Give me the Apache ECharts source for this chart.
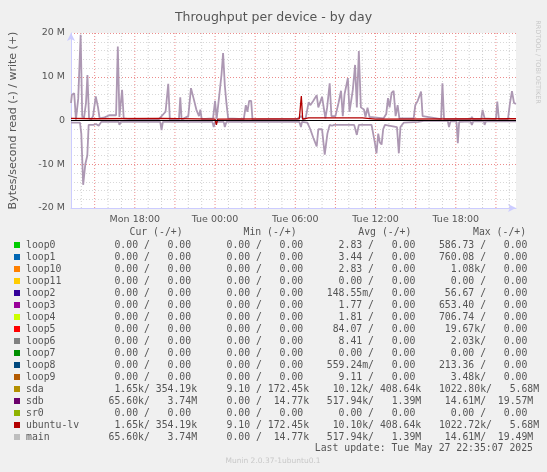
<!DOCTYPE html>
<html>
<head>
<meta charset="utf-8">
<script src="https://cdn.jsdelivr.net/npm/echarts@6/dist/echarts.min.js"></script>
<style>
  html, body { margin: 0; padding: 0; background: #f0f0f0; }
  #chart { width: 547px; height: 472px; }
</style>
</head>
<body>
<div id="chart"></div>
<script>
// hours since Mon 00:00, values in MB/s
var mainWrite = [[13.23,4],[13.3,5.9],[13.47,6.2],[13.6,0.2],[13.77,5],[13.95,19.6],[14.07,1],[14.2,0.5],[14.35,4],[14.46,10.4],[14.58,0.5],[14.75,0.3],[14.88,1],[15.08,5.5],[15.25,3],[15.37,0.5],[15.74,0.7],[16.1,1.2],[16.24,1.5],[16.6,1.2],[16.73,16.9],[16.85,0.8],[17.05,7],[17.17,0.5],[17.6,0.3],[19.8,0.3],[19.93,0.5],[20.3,2],[20.5,8.4],[20.62,0.2],[21.3,0.2],[21.4,5.3],[21.5,0.2],[22.0,1],[22.2,7.4],[22.4,5],[22.6,2.5],[22.8,1],[22.9,2.5],[23.0,0.3],[23.85,0.5],[24.0,4.5],[24.12,0.3],[24.32,5.9],[24.48,10.4],[24.6,15.4],[24.66,12],[24.73,8],[24.85,4],[24.98,0.5],[26.15,0.3],[26.3,3.5],[26.42,2],[26.55,4.5],[26.7,4.5],[26.8,0.2],[30.1,0.3],[30.45,1],[30.6,0.3],[30.77,0.5],[31.0,4.2],[31.12,3.5],[31.35,4.5],[31.6,5.8],[31.72,3],[32.0,5.4],[32.25,0.5],[32.38,3],[32.57,8.5],[32.7,1],[33.0,1],[33.23,4],[33.42,6.8],[33.55,1],[33.68,6],[33.93,9.7],[34.05,2],[34.3,7],[34.47,12.7],[34.6,3],[34.75,15.9],[34.9,3],[35.13,2.5],[35.25,0.8],[35.4,2.9],[35.55,0.8],[36.6,0.5],[36.8,1.5],[36.93,5.1],[37.05,3],[37.2,6.3],[37.35,6.8],[37.5,1],[37.65,3.5],[37.78,0.5],[38.85,0.5],[38.97,3.5],[39.15,4.5],[39.4,6.6],[39.52,1],[40.9,0.3],[41.0,8.5],[41.12,0.3],[43.1,0.3],[43.2,0.8],[43.3,0.3],[43.9,0.3],[44.0,2.4],[44.15,0.5],[45.0,0.3],[45.1,4.3],[45.22,0.3],[45.9,0.3],[46.05,4],[46.2,6.7],[46.35,4],[46.5,3.8]];
var mainRead = [[13.23,-0.5],[13.6,-0.5],[13.9,-0.5],[14.0,-3],[14.14,-14.7],[14.3,-10],[14.45,-8],[14.55,-1],[14.9,-1],[15.1,-0.8],[15.3,-1.2],[15.5,-0.3],[16.8,-0.3],[16.85,-1],[16.95,-0.3],[19.9,-0.3],[20.0,-2.2],[20.1,-0.3],[23.8,-0.3],[23.9,-1.5],[24.0,-0.3],[24.65,-0.3],[24.73,-1.5],[24.85,-0.3],[30.3,-0.3],[30.42,-1.5],[30.5,-0.3],[30.9,-0.5],[31.12,-2],[31.35,-4],[31.6,-5.9],[31.72,-2],[32.0,-2],[32.2,-7.8],[32.4,-3],[32.57,-1],[32.75,-1.2],[32.9,-1],[34.4,-1],[34.6,-3.3],[34.75,-1],[35.7,-1],[35.95,-5.1],[36.07,-7.5],[36.2,-3],[36.32,-5],[36.45,-5.5],[36.57,-2],[36.7,-1],[37.6,-1.5],[37.74,-7.5],[37.86,-1.5],[38.1,-0.5],[39.2,-0.3],[39.6,-0.1],[41.4,-0.1],[41.49,-1.5],[41.6,-0.2],[42.05,-0.2],[42.15,-5.2],[42.25,-0.3],[43.1,-0.2],[43.2,-1],[43.3,-0.2],[44.1,-0.2],[44.15,-1],[44.25,-0.2],[46.5,-0.2]];
var lvWrite = [[13.23,0.5],[15,0.4],[20,0.5],[24,0.3],[24.1,-1],[24.2,0.3],[30.3,0.4],[30.45,5.6],[30.55,0.3],[31,0.6],[35,0.6],[36,0.3],[46.5,0.4]];

var timeLabels = [18, 24, 30, 36, 42];
var majorLines = [15, 18, 21, 24, 27, 30, 33, 36, 39, 42, 45];
var minorLines = [14, 16, 17, 19, 20, 22, 23, 25, 26, 28, 29, 31, 32, 34, 35, 37, 38, 40, 41, 43, 44, 46];

var legendNames = ['loop0','loop1','loop10','loop11','loop2','loop3','loop4','loop5','loop6','loop7','loop8','loop9','sda','sdb','sr0','ubuntu-lv','main'];
var legendColors = ['#00cc00','#0066b3','#ff8000','#ffcc00','#330099','#990099','#ccff00','#ff0000','#808080','#008f00','#00487d','#b35a00','#b38f00','#6b006b','#8fb300','#b30000','#bebebe'];
var curCol = [['0.00',' ','0.00',' '],['0.00',' ','0.00',' '],['0.00',' ','0.00',' '],['0.00',' ','0.00',' '],['0.00',' ','0.00',' '],['0.00',' ','0.00',' '],['0.00',' ','0.00',' '],['0.00',' ','0.00',' '],['0.00',' ','0.00',' '],['0.00',' ','0.00',' '],['0.00',' ','0.00',' '],['0.00',' ','0.00',' '],['1.65','k','354.19','k'],['65.60','k','3.74','M'],['0.00',' ','0.00',' '],['1.65','k','354.19','k'],['65.60','k','3.74','M']];
var minCol = [['0.00',' ','0.00',' '],['0.00',' ','0.00',' '],['0.00',' ','0.00',' '],['0.00',' ','0.00',' '],['0.00',' ','0.00',' '],['0.00',' ','0.00',' '],['0.00',' ','0.00',' '],['0.00',' ','0.00',' '],['0.00',' ','0.00',' '],['0.00',' ','0.00',' '],['0.00',' ','0.00',' '],['0.00',' ','0.00',' '],['9.10',' ','172.45','k'],['0.00',' ','14.77','k'],['0.00',' ','0.00',' '],['9.10',' ','172.45','k'],['0.00',' ','14.77','k']];
var avgCol = [['2.83',' ','0.00',' '],['3.44',' ','0.00',' '],['2.83',' ','0.00',' '],['0.00',' ','0.00',' '],['148.55','m','0.00',' '],['1.77',' ','0.00',' '],['1.81',' ','0.00',' '],['84.07',' ','0.00',' '],['8.41',' ','0.00',' '],['0.00',' ','0.00',' '],['559.24','m','0.00',' '],['9.11',' ','0.00',' '],['10.12','k','408.64','k'],['517.94','k','1.39','M'],['0.00',' ','0.00',' '],['10.10','k','408.64','k'],['517.94','k','1.39','M']];
var maxCol = [['586.73',' ','0.00',' '],['760.08',' ','0.00',' '],['1.08','k','0.00',' '],['0.00',' ','0.00',' '],['56.67',' ','0.00',' '],['653.40',' ','0.00',' '],['706.74',' ','0.00',' '],['19.67','k','0.00',' '],['2.03','k','0.00',' '],['0.00',' ','0.00',' '],['213.36',' ','0.00',' '],['3.48','k','0.00',' '],['1022.80','k','5.68','M'],['14.61','M','19.57','M'],['0.00',' ','0.00',' '],['1022.72','k','5.68','M'],['14.61','M','19.49','M']];

function pad(s, n) { while (s.length < n) s = ' ' + s; return s; }
function field(c) { return '   ' + pad(c[0], 6) + c[1] + '/ ' + pad(c[2], 6) + c[3]; }
function padRight(s, n) { while (s.length < n) s += ' '; return s; }

var mono = '"DejaVu Sans Mono", monospace';
var graphics = [];
legendNames.forEach(function (name, i) {
    var y = 245 + i * 12;
    graphics.push({ type: 'rect', shape: { x: 14, y: y - 3, width: 6, height: 6 }, style: { fill: legendColors[i] } });
    var line = padRight(name, 10) + field(curCol[i]) + field(minCol[i]) + field(avgCol[i]) + field(maxCol[i]);
    graphics.push({ type: 'text', x: 26, y: y, style: { text: line, font: '9.8px ' + mono, fill: '#555', verticalAlign: 'middle' } });
});
[['Cur (-/+)', 129.5], ['Min (-/+)', 243.5], ['Avg (-/+)', 358.3], ['Max (-/+)', 473]].forEach(function (h) {
    graphics.push({ type: 'text', x: h[1], y: 232.5, style: { text: h[0], font: '9.8px ' + mono, fill: '#555', verticalAlign: 'middle' } });
});
graphics.push({ type: 'text', x: 533, y: 448.5, style: { text: 'Last update: Tue May 27 22:35:07 2025', font: '9.8px ' + mono, fill: '#555', align: 'right', verticalAlign: 'middle' } });
graphics.push({ type: 'text', x: 273, y: 461, style: { text: 'Munin 2.0.37-1ubuntu0.1', font: '7.5px "DejaVu Sans"', fill: '#c8c8c8', align: 'center', verticalAlign: 'middle' } });
graphics.push({ type: 'text', x: 538, y: 62, rotation: -Math.PI / 2, style: { text: 'RRDTOOL / TOBI OETIKER', font: '6.5px "DejaVu Sans"', fill: '#c8c8c8', align: 'center', verticalAlign: 'middle' } });

// vertical grid drawn as a broken line series through the axes
function vLines(values, color) {
    var pts = [];
    values.forEach(function (v) { pts.push([v, -20], [v, 20], [v, null]); });
    return {
        type: 'line', data: pts, z: 1, silent: true, showSymbol: false, connectNulls: false,
        lineStyle: { color: color, type: [1, 2], width: 1 }
    };
}

var chart = echarts.init(document.getElementById('chart'));
var option = {
    backgroundColor: '#f0f0f0',
    animation: false,
    title: {
        text: 'Throughput per device - by day',
        left: 'center', top: 6,
        textStyle: { fontFamily: 'DejaVu Sans', fontSize: 12.5, fontWeight: 'normal', color: '#555' }
    },
    graphic: graphics,
    grid: { left: 66, right: 31, top: 33, bottom: 264, backgroundColor: '#fff', show: true, borderWidth: 0 },
    xAxis: {
        type: 'value', min: 13.23, max: 46.5,
        axisLine: { lineStyle: { color: '#ccccff' }, symbol: ['none', 'arrow'], symbolSize: [6, 8], onZero: false },
        axisTick: { show: false },
        splitLine: { show: false },
        axisLabel: {
            customValues: timeLabels, color: '#555', fontFamily: 'DejaVu Sans', fontSize: 9.5, margin: 7,
            formatter: function (v) {
                var d = v < 24 ? 'Mon ' : 'Tue ';
                var h = v % 24;
                return d + (h < 10 ? '0' : '') + h + ':00';
            }
        }
    },
    yAxis: {
        type: 'value', min: -20, max: 20, interval: 10,
        name: 'Bytes/second read (-) / write (+)', nameLocation: 'middle', nameGap: 52,
        nameTextStyle: { fontFamily: 'DejaVu Sans', fontSize: 11, color: '#555' },
        axisLine: { show: true, lineStyle: { color: '#ccccff' }, symbol: ['none', 'arrow'], symbolSize: [6, 8] },
        axisTick: { show: false },
        axisLabel: {
            color: '#555', fontFamily: 'DejaVu Sans', fontSize: 9.5, margin: 6,
            formatter: function (v) { return v === 0 ? '0' : v + ' M'; }
        },
        splitLine: { lineStyle: { color: '#ec8c8c', type: [1, 2] } },
        minorTick: { show: false, splitNumber: 5 },
        minorSplitLine: { show: true, lineStyle: { color: '#d8d8d8', type: [1, 2] } }
    },
    series: [
        vLines(minorLines, '#d0d0d0'),
        vLines(majorLines, '#ec8c8c'),
        { type: 'line', data: mainWrite, showSymbol: false, z: 3, lineStyle: { color: '#ad98b3', width: 1.8 } },
        { type: 'line', data: mainRead, showSymbol: false, z: 3, lineStyle: { color: '#ad98b3', width: 1.8 } },
        {
            type: 'line', data: lvWrite, showSymbol: false, z: 4, lineStyle: { color: '#b30000', width: 1.3 },
            markLine: {
                symbol: ['none', 'none'], silent: true, label: { show: false },
                data: [{ yAxis: 0, lineStyle: { color: '#000', type: 'solid', width: 1.2 } }]
            }
        }
    ]
};
chart.setOption(option);
</script>
</body>
</html>
